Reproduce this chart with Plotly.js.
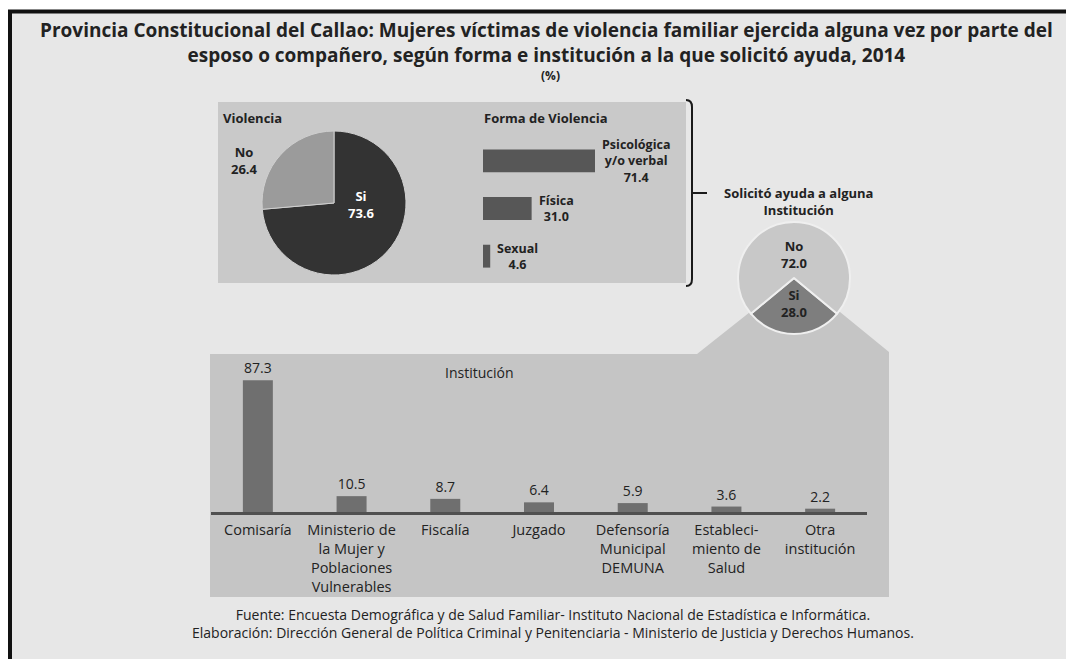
<!DOCTYPE html>
<html>
<head>
<meta charset="utf-8">
<script src="https://cdn.plot.ly/plotly-3.0.1.min.js"></script>
<style>html,body{margin:0;padding:0;background:#fff;}#chart{width:1066px;height:659px;}</style>
</head>
<body>
<div id="chart"></div>
<script>
// ---- Data ----
const violenciaLabels = ['Si', 'No'];
const violenciaValues = [73.6, 26.4];

const formaLabels = ['Psicológica<br>y/o verbal', 'Física', 'Sexual'];
const formaValues = [71.4, 31.0, 4.6];

const ayudaLabels = ['Si', 'No'];
const ayudaValues = [28.0, 72.0];

const institucionLabels = ['Comisaría', 'Ministerio de<br>la Mujer y<br>Poblaciones<br>Vulnerables', 'Fiscalía', 'Juzgado',
  'Defensoría<br>Municipal<br>DEMUNA', 'Estableci-<br>miento de<br>Salud', 'Otra<br>institución'];
const institucionValues = [87.3, 10.5, 8.7, 6.4, 5.9, 3.6, 2.2];

const titleLines = ['Provincia Constitucional del Callao: Mujeres víctimas de violencia familiar ejercida alguna vez por parte del',
  'esposo o compañero, según forma e institución a la que solicitó ayuda, 2014', '(%)'];
const sourceLines = ['Fuente: Encuesta Demográfica y de Salud Familiar- Instituto Nacional de Estadística e Informática.',
  'Elaboración: Dirección General de Política Criminal y Penitenciaria - Ministerio de Justicia y Derechos Humanos.'];

// ---- Helpers (pixel -> paper) ----
const W = 1066, H = 659;
const px = v => v / W;
const py = v => 1 - v / H;
const FONT = '"Open Sans", "Liberation Sans", sans-serif';
const TXT = '#222222';

const ayudaTotal = ayudaValues.reduce((a, b) => a + b, 0);

const traces = [
  {
    type: 'pie', labels: violenciaLabels, values: violenciaValues, sort: false,
    direction: 'clockwise', rotation: 0, textinfo: 'none', hoverinfo: 'none',
    marker: {colors: ['#333333', '#9b9b9b'], line: {color: '#cfcfcf', width: 1}},
    domain: {x: [px(262), px(406)], y: [py(275), py(131)]}, showlegend: false
  },
  {
    type: 'pie', labels: ayudaLabels, values: ayudaValues, sort: false,
    direction: 'clockwise', rotation: 180 - (ayudaValues[0] / ayudaTotal) * 180,
    textinfo: 'none', hoverinfo: 'none',
    marker: {colors: ['#7e7e7e', '#c8c8c8'], line: {color: '#efefef', width: 2}},
    domain: {x: [px(738), px(850)], y: [py(334), py(222)]}, showlegend: false
  },
  {
    type: 'bar', orientation: 'h', x: formaValues, y: formaLabels, width: 0.48,
    marker: {color: '#575757'}, xaxis: 'x', yaxis: 'y', hoverinfo: 'none', showlegend: false
  },
  {
    type: 'bar', x: institucionLabels, y: institucionValues, width: 0.32,
    marker: {color: '#6f6f6f'}, xaxis: 'x2', yaxis: 'y2', hoverinfo: 'none', showlegend: false,
    text: institucionValues.map(v => v.toFixed(1)), textposition: 'outside',
    textfont: {family: FONT, size: 14, color: TXT}, constraintext: 'none', cliponaxis: false
  }
];

const ann = [];
// Titles (two lines in one text block)
ann.push({text: '<b>' + titleLines[0] + '<br>' + titleLines[1] + '</b>', x: px(546), y: py(42), font: {size: 19}});
ann.push({text: '<b>' + titleLines[2] + '</b>', x: px(550), y: py(76), font: {size: 12}});
// Footer
ann.push({text: sourceLines[0] + '<br>' + sourceLines[1], x: px(553), y: py(623.5), font: {size: 14}});
// Headings
ann.push({text: '<b>Violencia</b>', x: px(221), y: py(118), xanchor: 'left', font: {size: 13}});
ann.push({text: '<b>Forma de Violencia</b>', x: px(482), y: py(118), xanchor: 'left', font: {size: 13}});
ann.push({text: '<b>Solicitó ayuda a alguna<br>Institución</b>', x: px(798), y: py(201), font: {size: 13}});
ann.push({text: 'Institución', x: px(479), y: py(372), font: {size: 14}});
// Pie labels
ann.push({text: '<b>' + violenciaLabels[0] + '<br>' + violenciaValues[0].toFixed(1) + '</b>', x: px(362), y: py(204), font: {size: 13, color: '#ffffff'}});
ann.push({text: '<b>' + violenciaLabels[1] + '<br>' + violenciaValues[1].toFixed(1) + '</b>', x: px(244), y: py(161), font: {size: 13}});
ann.push({text: '<b>' + ayudaLabels[1] + '<br>' + ayudaValues[1].toFixed(1) + '</b>', x: px(794), y: py(254), font: {size: 13}});
ann.push({text: '<b>' + ayudaLabels[0] + '<br>' + ayudaValues[0].toFixed(1) + '</b>', x: px(794), y: py(304), font: {size: 13}});
// Horizontal bar labels
formaLabels.forEach((lab, i) => {
  ann.push({text: '<b>' + lab + '<br>' + formaValues[i].toFixed(1) + '</b>', x: formaValues[i], y: lab,
    xref: 'x', yref: 'y', xanchor: 'left', xshift: 5, align: 'center', font: {size: 12.5}});
});
ann.forEach(a => {
  if (!a.xref) a.xref = 'paper';
  if (!a.yref) a.yref = 'paper';
  if (!a.xanchor) a.xanchor = 'center';
  if (!a.yanchor) a.yanchor = 'middle';
  a.showarrow = false;
  a.font = Object.assign({family: FONT, color: TXT}, a.font);
});

function P(x, y) { return px(x) + ',' + py(y); }
const shapes = [
  {type: 'rect', xref: 'paper', yref: 'paper', x0: px(10), x1: px(1080), y0: py(11.5), y1: py(680),
    fillcolor: '#e7e7e7', line: {color: '#111', width: 4}, layer: 'below'},
  {type: 'rect', xref: 'paper', yref: 'paper', x0: px(218), x1: px(686), y0: py(283), y1: py(102),
    fillcolor: '#c9c9c9', line: {width: 0}, layer: 'below'},
  {type: 'path', xref: 'paper', yref: 'paper', layer: 'below', fillcolor: '#c5c5c5', line: {width: 0},
    path: 'M' + P(210, 354) + 'L' + P(697, 354) + 'L' + P(750, 312) + 'L' + P(840, 312) + 'L' + P(889, 352) +
      'L' + P(889, 597) + 'L' + P(210, 597) + 'Z'},
  {type: 'path', xref: 'paper', yref: 'paper', layer: 'below', line: {color: '#1a1a1a', width: 2},
    path: 'M' + P(686, 100) + 'Q' + P(692, 100) + ' ' + P(692, 107) + 'L' + P(692, 279) + 'Q' + P(692, 286) + ' ' + P(686, 286)},
  {type: 'line', xref: 'paper', yref: 'paper', layer: 'below', x0: px(692), x1: px(707), y0: py(193), y1: py(193),
    line: {color: '#1a1a1a', width: 2}}
];

const layout = {
  width: W, height: H, margin: {l: 0, r: 0, t: 0, b: 0},
  paper_bgcolor: '#ffffff', plot_bgcolor: 'rgba(0,0,0,0)',
  showlegend: false, font: {family: FONT, color: TXT},
  xaxis: {domain: [px(483), px(683)], range: [0, 127.5], visible: false, anchor: 'y', fixedrange: true},
  yaxis: {domain: [py(280), py(137)], type: 'category', categoryarray: formaLabels, range: [2.5, -0.5],
    visible: false, anchor: 'x', fixedrange: true},
  xaxis2: {domain: [px(211), px(867)], type: 'category', categoryarray: institucionLabels, range: [-0.5, 6.5],
    showline: true, linecolor: '#505050', linewidth: 3, ticks: '', showgrid: false, zeroline: false,
    tickfont: {family: FONT, size: 14.5, color: TXT}, ticklabelstandoff: 3, anchor: 'y2', fixedrange: true},
  yaxis2: {domain: [py(512), py(361)], range: [0, 100], visible: false, anchor: 'x2', fixedrange: true},
  shapes: shapes,
  annotations: ann
};

Plotly.newPlot('chart', traces, layout, {displayModeBar: false, staticPlot: true});
</script>
</body>
</html>
